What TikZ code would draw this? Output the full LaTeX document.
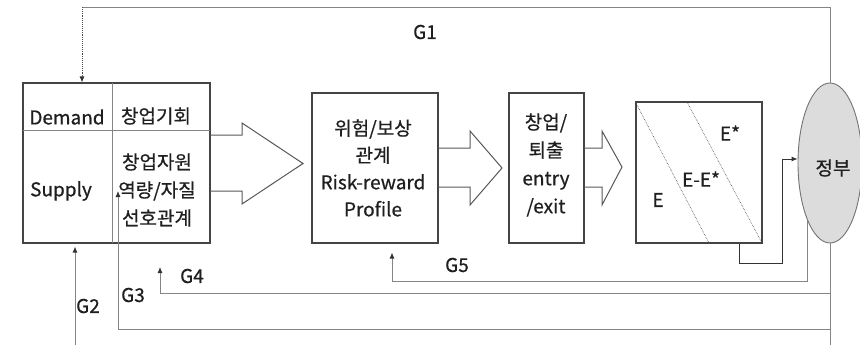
\documentclass[tikz,border=0pt]{standalone}
\usepackage{fontspec}
\setmainfont[FakeBold=0.6]{Noto Sans CJK KR}
\usetikzlibrary{arrows.meta,shapes.geometric}
\definecolor{boxline}{HTML}{444444}
\definecolor{wire}{HTML}{858585}
\definecolor{govfill}{HTML}{DCDCDC}

\begin{document}
\begin{tikzpicture}[x=1pt,y=-1pt,
  txt/.style={font=\fontsize{19}{27}\selectfont, inner sep=0pt, align=center, text=black!88},
  txtwide/.style={txt, font=\fontsize{19}{28}\selectfont},
  frame/.style={draw=boxline, line width=1.1pt, inner sep=0pt},
  wirepath/.style={draw=wire, line width=0.9pt},
  tip/.style={-{Latex[length=6pt,width=5pt,color=black!80]}},
  blockarrow/.style={draw=boxline!90, line width=1pt, line join=miter},
  split/.style={draw=wire, line width=0.9pt},
  diag/.style={draw=black!75, line width=0.6pt, densely dotted},
  glabel/.style={font=\fontsize{19}{22}\selectfont, inner sep=0pt, text=black!88}
]
\useasboundingbox (0,0) rectangle (860,345);

% market box: demand / supply
\node[frame, minimum width=187pt, minimum height=160pt] (market) at (116.5,163) {};
\draw[split] (112,83) -- (112,243);
\draw[split] (23,130) -- (210,130);
\node[txt] (dem) at (67,117) {Demand};
\node[txt] (demk) at (156,116) {창업기회};
\node[txt] (sup) at (61,191) {Supply};
\node[txtwide] (supk) at (157,190) {창업자원\\역량/자질\\선호관계};

% risk-reward profile
\node[frame, minimum width=126pt, minimum height=150pt] (risk) at (375,168) {};
\node[txt] (riskt) at (373,168) {위험/보상\\관계\\Risk-reward\\Profile};

% entry / exit
\node[frame, minimum width=75pt, minimum height=150pt] (entry) at (546.5,168) {};
\node[txtwide] (entryt) at (546,165) {창업/\\퇴출\\entry\\/exit};

% outcome map
\node[frame, minimum width=126pt, minimum height=141pt] (map) at (699,172.5) {};
\draw[diag] (637,105) -- (709,243);
\draw[diag] (687,102) -- (762,243);
\node[txt] (estar) at (730,133) {E*};
\node[txt] (ediff) at (701,179) {E-E*};
\node[txt] (eonly) at (658,200) {E};

% government
\node[ellipse, draw=black!55, fill=govfill, line width=0.9pt, inner sep=0pt,
      minimum width=64pt, minimum height=160pt] (gov) at (830,163) {};
\node[txt] (govt) at (833,168) {정부};

% block arrows between stages
\draw[blockarrow] (210,135) -- (242,135) -- (242,123) -- (303,163.5) -- (242,204) -- (242,191) -- (210,191);
\draw[blockarrow] (438,148) -- (470,148) -- (470,131) -- (502,168) -- (470,205) -- (470,187) -- (438,187);
\draw[blockarrow] (584,148) -- (602,148) -- (602,131) -- (622,167) -- (602,205) -- (602,187) -- (584,187);

% outcome to government
\draw[draw=black!80, line width=0.9pt, tip] ([xshift=40pt]map.south) -- ++(0,20)
  -| ([xshift=-15pt,yshift=4pt]gov.west) -- ([yshift=4pt]gov.west);

% policy feedback G1
\coordinate (g1turn) at (82,7);
\draw[wirepath] (gov.north) |- (g1turn);
\draw[draw=black!70, line width=0.9pt, densely dotted, tip] (g1turn) -- (g1turn |- market.north);
\node[glabel] (g1) at (425,32) {G1};

% government stem
\coordinate (govfoot) at (830,345);
\draw[wirepath] (gov.south) -- (govfoot);

% G5
\coordinate (g5low) at (392,281);
\draw[wirepath, tip, shorten >=9pt] (gov.south west) |- (g5low) -- (g5low |- risk.south);
\node[glabel] (g5) at (457,265) {G5};

% G4
\coordinate (g4low) at (160,293);
\coordinate (g4tip) at (160,267);
\draw[wirepath, tip] (gov.south |- g4low) -- (g4low) -- (g4tip);
\node[glabel] (g4) at (192,276) {G4};

% G3
\coordinate (g3low) at (118,329);
\coordinate (g3tip) at (118,191);
\draw[wirepath, tip] (gov.south |- g3low) -- (g3low) -- (g3tip);
\node[glabel] (g3) at (133,295) {G3};

% G2
\coordinate (g2foot) at (75,345);
\draw[wirepath, tip, shorten >=3pt] (g2foot) -- (g2foot |- market.south);
\node[glabel] (g2) at (88,306) {G2};
\end{tikzpicture}
\end{document}
